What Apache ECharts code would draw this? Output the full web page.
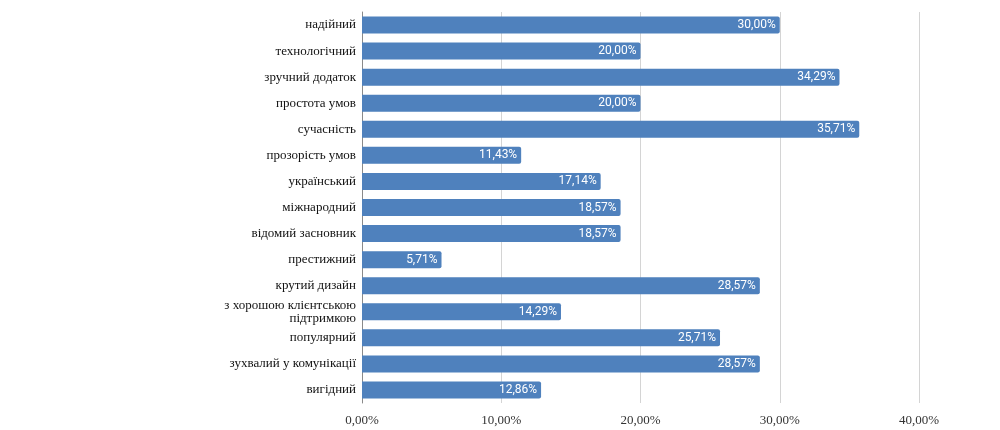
<!DOCTYPE html>
<html>
<head>
<meta charset="utf-8">
<script src="https://cdn.jsdelivr.net/npm/echarts@6/dist/echarts.min.js"></script>
<style>html,body{margin:0;padding:0;background:#fff}#c{width:1000px;height:430px}</style>
</head>
<body>
<div id="c"></div>
<script>
const categories = ["надійний","технологічний","зручний додаток","простота умов","сучасність","прозорість умов","український","міжнародний","відомий засновник","престижний","крутий дизайн","з хорошою клієнтською\nпідтримкою","популярний","зухвалий у комунікації","вигідний"];
const values = [30.00,20.00,34.29,20.00,35.71,11.43,17.14,18.57,18.57,5.71,28.57,14.29,25.71,28.57,12.86];
const xTicks = {min:0, max:40, interval:10};

function pct(v){ return v.toFixed(2).replace('.', ',') + '%'; }

const chart = echarts.init(document.getElementById('c'), null, {renderer:'canvas'});
chart.setOption({
  animation:false,
  backgroundColor:'#fff',
  grid:{left:362, right:81, top:12, bottom:27, containLabel:false},
  xAxis:{
    type:'value', min:xTicks.min, max:xTicks.max, interval:xTicks.interval,
    axisLine:{show:false}, axisTick:{show:false},
    splitLine:{show:true, lineStyle:{color:'#d4d4d4', width:1}},
    axisLabel:{formatter:pct, color:'#333', fontFamily:'Liberation Serif', fontSize:13, margin:11}
  },
  yAxis:{
    type:'category', data:categories, inverse:true,
    axisLine:{show:true, lineStyle:{color:'#8a8a8a', width:1}},
    axisTick:{show:false},
    axisLabel:{color:'#111', fontFamily:'Liberation Serif', fontSize:13, margin:6, align:'right', lineHeight:13}
  },
  series:[{
    type:'bar', data:values, barWidth:17,
    itemStyle:{color:'#4f81bd', borderRadius:[0,2,2,0]},
    label:{show:true, position:'insideRight', formatter:p=>pct(p.value), color:'#fff', fontFamily:'Roboto', fontSize:12, distance:4}
  }]
});
</script>
</body>
</html>
